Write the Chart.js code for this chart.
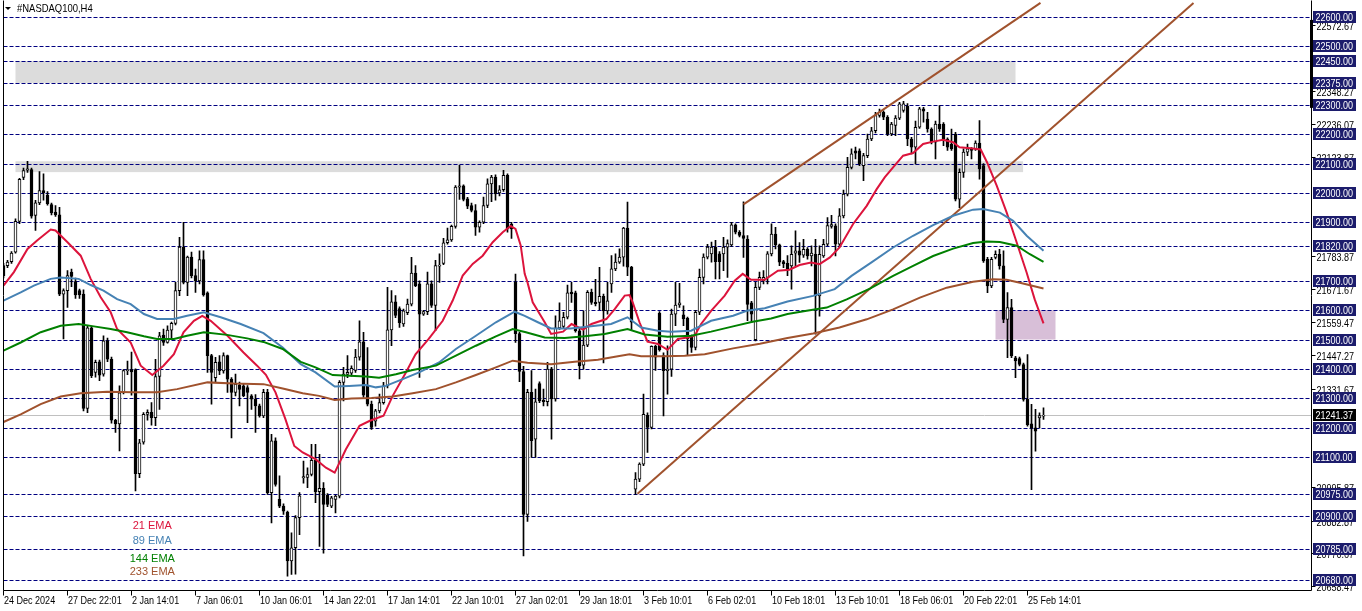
<!DOCTYPE html>
<html>
<head>
<meta charset="utf-8">
<title>#NASDAQ100,H4</title>
<script src="https://cdn.jsdelivr.net/npm/chart.js@4.4.1/dist/chart.umd.min.js"></script>
<style>
  html, body { margin: 0; padding: 0; background: #fff; }
  #wrap { width: 1362px; height: 611px; position: relative; }
</style>
</head>
<body>
<div id="wrap"><canvas id="chart"></canvas></div>
<script>
// ===== Data =====

// time labels, one every 16 H4 bars starting at bar 0
const timeLabels = ["24 Dec 2024", "27 Dec 22:01", "2 Jan 14:01", "7 Jan 06:01", "10 Jan 06:01",
  "14 Jan 22:01", "17 Jan 14:01", "22 Jan 10:01", "27 Jan 02:01", "29 Jan 18:01", "3 Feb 10:01",
  "6 Feb 02:01", "10 Feb 18:01", "13 Feb 10:01", "18 Feb 06:01", "20 Feb 22:01", "25 Feb 14:01"];
const barsPerLabel = 16;

// candles, bar 0 .. 260
const opens = [
  21752,21752,21766,21798,21903,22053,22078,22080,21923,21966, 22008,21993,21960,21935,21925,21655,21667,21730,21698,21667,
  21655,21265,21540,21388,21424,21382,21496,21433,21225,21212, 21320,21394,21398,21398,21043,21150,21245,21252,21234,21374,
  21515,21490,21532,21555,21667,21815,21695,21781,21718,21700, 21773,21659,21445,21370,21424,21393,21445,21365,21320,21345,
  21342,21336,21308,21297,21274,21240,21320,20978,21155,20955, 20932,20912,20745,20790,20893,21028,21030,21040,21088,20981,
  20993,20969,20932,20955,20966,21354,21381,21385,21395,21440, 21492,21342,21280,21222,21257,21285,21342,21533,21629,21606,
  21553,21592,21621,21727,21690,21587,21595,21690,21616,21750, 21760,21830,21840,21886,22020,22024,21980,21957,21940,21883,
  21900,21957,22031,22054,22000,22011,22060,21894,21695,21520, 21391,20904,21320,21160,21350,21293,21288,21400,21298,21540,
  21545,21576,21662,21659,21530,21413,21481,21661,21627,21627, 21647,21598,21690,21741,21764,21781,21880,21747,20990,21024,
  21075,21242,21200,21477,21590,21445,21394,21399,21587,21618, 21584,21572,21508,21473,21593,21712,21781,21792,21815,21792,
  21792,21815,21823,21891,21866,21855,21843,21625,21500,21678, 21700,21712,21792,21860,21823,21766,21760,21751,21795,21803,
  21788,21808,21785,21791,21649,21785,21825,21886,21888,21825, 21922,21996,22087,22144,22144,22093,22127,22184,22212,22264,
  22275,22258,22201,22230,22255,22281,22295,22184,22156,22224, 22287,22252,22218,22173,22235,22235,22184,22167,22201,21979,
  22070,22139,22150,22150,22170,22093,21774,21683,21780,21791, 21751,21569,21609,21438,21435,21415,21296,21213,21199,21233,
  21239
];
const highs = [
  21760,21770,21800,21912,22050,22085,22108,22085,21975,22073, 22065,22005,21965,21957,21951,21673,21735,21740,21710,21672,
  21670,21545,21545,21430,21430,21513,21505,21440,21228,21342, 21398,21427,21457,21400,21160,21251,21260,21285,21433,21525,
  21536,21547,21560,21695,21849,21900,21785,21798,21740,21803, 21803,21663,21450,21439,21445,21455,21447,21370,21382,21355,
  21348,21343,21312,21312,21280,21330,21330,21177,21165,21035, 20940,20915,20841,20900,20978,21086,21063,21143,21143,21109,
  21012,20975,20965,20970,21360,21405,21445,21410,21467,21564, 21525,21473,21290,21262,21314,21354,21678,21667,21650,21612,
  21604,21638,21780,21752,21700,21600,21730,21700,21770,21792, 21845,21880,21890,22025,22094,22028,21985,21965,21960,21905,
  21986,22048,22060,22062,22025,22077,22065,21900,21723,21525, 21409,21330,21394,21331,21356,21331,21422,21405,21581,21625,
  21593,21686,21695,21665,21535,21598,21667,21672,21705,21746, 21655,21695,21786,21792,21809,21883,21969,21750,21046,21080,
  21314,21250,21479,21480,21595,21455,21479,21604,21695,21692, 21615,21577,21515,21600,21740,21792,21825,21832,21838,21800,
  21849,21840,21900,21895,21872,21970,21855,21630,21695,21730, 21735,21800,21895,21883,21826,21770,21786,21820,21871,21831,
  21842,21814,21820,21842,21820,21842,21916,21924,21895,21947, 22010,22121,22150,22156,22150,22135,22201,22224,22275,22286,
  22280,22264,22241,22264,22309,22312,22305,22190,22245,22292, 22292,22275,22222,22245,22298,22240,22188,22218,22207,22082,
  22150,22167,22155,22178,22247,22100,21780,21780,21803,21808, 21803,21660,21637,21443,21440,21420,21449,21279,21262,21250,
  21267
];
const lows = [
  21710,21745,21760,21795,21895,22045,22070,21914,21872,21960, 21975,21958,21925,21920,21650,21502,21610,21680,21640,21640,
  21257,21251,21370,21372,21360,21375,21425,21215,21183,21120, 21315,21380,21310,20984,21029,21143,21225,21208,21206,21262,
  21480,21488,21505,21550,21650,21690,21650,21710,21661,21690, 21648,21388,21280,21355,21380,21385,21320,21165,21308,21274,
  21305,21217,21262,21183,21235,21234,20972,20875,21000,20927, 20904,20693,20699,20700,20835,21010,20995,21035,20944,20795,
  20772,20930,20927,20909,20960,21291,21370,21375,21388,21430, 21303,21274,21194,21205,21250,21280,21335,21479,21575,21541,
  21545,21585,21615,21680,21371,21582,21585,21610,21530,21695, 21755,21825,21835,21880,21978,21973,21946,21935,21855,21866,
  21895,21950,21970,21975,21990,22005,21866,21845,21490,21356, 20762,20880,21098,21098,21285,21274,21274,21160,21290,21535,
  21540,21570,21627,21525,21366,21399,21476,21620,21615,21602, 21420,21587,21661,21735,21760,21750,21718,21530,20972,21015,
  21070,21115,21195,21395,21460,21240,21314,21374,21547,21610, 21547,21445,21456,21465,21585,21690,21775,21764,21707,21707,
  21735,21712,21818,21860,21850,21780,21564,21558,21495,21670, 21690,21690,21785,21809,21752,21745,21718,21672,21751,21763,
  21780,21774,21751,21518,21580,21780,21820,21880,21785,21815, 21915,21990,22082,22116,22093,22042,22120,22178,22205,22258,
  22250,22195,22195,22195,22250,22275,22161,22133,22099,22220, 22241,22207,22167,22116,22210,22161,22145,22145,21973,21950,
  22053,22127,22116,22145,22047,21763,21660,21677,21775,21740, 21558,21438,21438,21370,21410,21290,21205,20988,21119,21199,
  21228
];
const closes = [
  21718,21764,21795,21903,22046,22076,22082,21921,21966,22008, 22000,21963,21932,21925,21655,21667,21718,21715,21652,21652,
  21265,21540,21377,21422,21379,21496,21433,21225,21212,21318, 21394,21398,21390,21043,21148,21245,21252,21234,21374,21513,
  21490,21532,21555,21667,21815,21695,21781,21718,21700,21773, 21652,21445,21388,21422,21393,21445,21365,21320,21348,21330,
  21308,21320,21297,21274,21240,21320,20978,21155,21006,20932, 20915,20745,20790,20893,20967,21033,21040,21088,20981,20993,
  20938,20938,20960,20966,21354,21382,21388,21402,21440,21492, 21310,21280,21200,21257,21285,21342,21533,21629,21582,21558,
  21598,21621,21727,21684,21587,21595,21690,21616,21752,21754, 21830,21840,21886,22020,22024,21978,21955,21940,21883,21900,
  21957,22031,22054,21997,22011,22060,21877,21877,21520,21391, 20904,21320,21155,21288,21291,21288,21399,21298,21540,21564,
  21576,21659,21656,21530,21410,21481,21661,21627,21622,21647, 21598,21632,21741,21764,21781,21880,21747,21559,21024,21075,
  21245,21200,21477,21440,21465,21394,21399,21587,21618,21625, 21570,21502,21473,21593,21712,21781,21815,21815,21766,21766,
  21815,21827,21891,21866,21855,21845,21620,21587,21678,21712, 21712,21792,21860,21823,21764,21758,21738,21791,21803,21788,
  21808,21785,21795,21649,21791,21825,21889,21892,21825,21922, 21996,22087,22133,22136,22099,22127,22184,22212,22264,22275,
  22258,22201,22235,22255,22304,22304,22184,22156,22224,22287, 22279,22218,22173,22235,22218,22184,22156,22150,21979,22070,
  22139,22150,22145,22170,22082,21768,21683,21774,21791,21751, 21569,21609,21444,21427,21415,21296,21210,21199,21188,21241,
  21241.37
];

// moving averages, sampled as [bar, value]
const ema21 = [[0,21684],[2.6,21730],[6,21809],[8.4,21838],[11.8,21875],[13,21872],[16,21832],[19.3,21786],[21.8,21707],
  [24.3,21644],[26.8,21593],[28.4,21536],[31.8,21490],[34.3,21411],[37.2,21379],[40,21411],[42.6,21450],[45,21525],
  [47.6,21564],[49.7,21581],[51.8,21564],[56,21513],[60,21456],[63.4,21411],[65.6,21380],[68,21320],[70.5,21228],
  [72.7,21137],[74.8,21115],[78,21092],[80.6,21063],[82.8,21046],[85.6,21126],[89,21206],[91.6,21223],[95,21240],
  [97.3,21308],[100.6,21388],[103,21450],[106.3,21502],[109.8,21564],[112.3,21633],[114.8,21718],[117.3,21758],
  [119.8,21786],[122.3,21832],[124.8,21866],[126.8,21887],[128,21877],[129.3,21821],[130.3,21724],[131,21695],
  [132.3,21627],[135.3,21559],[136.9,21519],[139.9,21527],[142,21553],[144.9,21534],[147,21553],[150.7,21570],
  [152.8,21604],[155.3,21650],[156.5,21652],[157.3,21627],[159,21559],[161,21493],[163.6,21485],[166,21465],
  [168.6,21502],[171,21507],[172.8,21513],[174.4,21553],[176.9,21598],[180.3,21650],[182.8,21701],[184.8,21724],
  [186.9,21704],[190.3,21704],[193.6,21735],[196.5,21738],[199,21754],[201.9,21763],[204,21757],[206.6,21780],
  [209,21814],[212.4,21894],[215.8,21956],[218.3,22013],[220.3,22053],[222.4,22087],[224.9,22127],[227.4,22136],
  [229.9,22167],[232.4,22175],[234.9,22181],[237.4,22173],[239,22156],[241.8,22152],[244.3,22148],[245.9,22104],
  [248.3,22025],[250.8,21933],[253.3,21831],[255.8,21728],[257.8,21637],[260,21555]];
const ema89 = [[0,21633],[4.3,21661],[7.6,21684],[11.8,21707],[14.3,21712],[18.8,21707],[21.8,21686],[25,21667],
  [28.4,21638],[31.8,21621],[35.1,21587],[38.4,21570],[42.6,21570],[45.9,21581],[50.1,21593],[54.3,21576],
  [59.3,21553],[65,21522],[69.8,21473],[74.3,21416],[78,21388],[82.8,21340],[86.4,21342],[90.6,21345],[93.1,21337],
  [95.6,21342],[99.8,21365],[103.9,21388],[108.9,21422],[113.1,21468],[118.1,21513],[123.1,21559],[127.8,21595],
  [130.3,21581],[133.6,21559],[136.9,21538],[141.8,21538],[146.9,21545],[151.9,21553],[156,21576],[159.4,21541],
  [163.6,21530],[166.9,21527],[171.9,21530],[176.9,21564],[182.4,21581],[185.8,21598],[190.3,21607],[196,21630],
  [202.4,21649],[207.8,21672],[212,21717],[217,21763],[222.4,21814],[227.4,21854],[232.4,21890],[237.4,21922],
  [242.4,21943],[244.9,21945],[249.1,21933],[252.4,21905],[255.8,21854],[260,21803]];
const ema144 = [[0,21462],[4.3,21490],[9.3,21525],[14.3,21547],[18.8,21553],[22.6,21545],[26.8,21536],[30.9,21525],
  [35.1,21511],[38.4,21502],[42.6,21502],[45.9,21513],[50.1,21525],[55.9,21516],[60.9,21504],[65,21492],[69.8,21468],
  [74.3,21424],[78,21405],[82.3,21379],[86.4,21377],[90.6,21374],[93.9,21370],[98.1,21382],[102.3,21396],[108.1,21411],
  [113.1,21445],[118.1,21479],[123.1,21511],[127.3,21536],[130.6,21525],[135.3,21507],[140.3,21505],[145.3,21511],
  [150.3,21519],[156,21536],[160.3,21517],[166,21510],[171.9,21513],[176.9,21527],[182.4,21545],[187.3,21561],
  [191.9,21572],[196,21587],[200.8,21598],[205.8,21609],[210.8,21637],[216.6,21674],[222.4,21717],[227.4,21751],
  [232.4,21785],[237.4,21810],[242.4,21829],[245.8,21834],[249.1,21833],[253.3,21820],[256.6,21791],[260,21765]];
const ema233 = [[0,21219],[4.3,21245],[9.3,21280],[14.3,21306],[19.3,21317],[25.9,21322],[32.6,21320],[38.4,21320],
  [43.4,21331],[51,21354],[57.6,21350],[65,21348],[69.8,21333],[74.8,21317],[78.9,21308],[82.8,21294],[87,21299],
  [92,21301],[97.3,21306],[102.3,21317],[108.1,21331],[113.1,21354],[118.1,21379],[123.1,21405],[127.3,21428],
  [131,21421],[136.9,21416],[142.8,21424],[148.6,21431],[153.6,21443],[156.5,21450],[159.4,21443],[165.3,21443],
  [170.3,21445],[175.3,21450],[182.4,21470],[189.1,21486],[196,21505],[202.4,21521],[209,21541],[215.8,21569],
  [222.4,21603],[229.1,21643],[235.8,21677],[242.4,21697],[247.4,21706],[250.8,21704],[254.1,21694],[260,21674]];
const emaNames = ["21 EMA", "89 EMA", "144 EMA", "233 EMA"];

// drawn objects
const levelLines = [22600, 22500, 22450, 22375, 22300, 22200, 22100, 22000, 21900, 21820, 21700,
  21600, 21500, 21400, 21300, 21200, 21100, 20975, 20900, 20785, 20680];
const scaleTicks = [22572.67, 22348.27, 22236.07, 22123.87, 21783.87, 21671.67, 21559.47,
  21447.27, 21331.67, 20995.87, 20882.87, 20770.67, 20658.47];
const lastPrice = 21241.37;
const channelLow = [[158.5, 20974], [297.5, 22648]];
const channelHigh = [[185, 21961], [259.25, 22648]];
const zoneBars = [[3, 253], [3, 254.9], [248, 263]];
const zonePrices = [[22450, 22375], [22108, 22071], [21600, 21500]];
const scaleMarker = [22590, 22290];

// ===== Look =====
const FONT = '"Liberation Sans", Arial, sans-serif';
const NARROW = 0.82; // squeeze to imitate Tahoma
const emaColors = ["#dc143c", "#4682b4", "#008000", "#a0522d"];
const zoneColors = ["#dcdcdc", "#dcdcdc", "#d8bfd8"];
const legendSpot = { bar: 37.2, prices: [20865, 20813, 20752, 20707] };

const toXY = pts => pts.map(p => ({ x: p[0], y: p[1] }));

const wickData = highs.map((h, i) => ({ x: i, y: [lows[i], h] }));
const bodyData = opens.map((o, i) => {
  const lo = Math.min(o, closes[i]);
  const hi = Math.max(o, closes[i]);
  return { x: i, y: [lo, Math.max(hi, lo + 3)] };
});

function emaSet(points, idx) {
  return {
    type: "line",
    data: toXY(points),
    borderColor: emaColors[idx],
    borderWidth: 2,
    pointRadius: 0,
    tension: 0,
    order: 0
  };
}

function trendSet(points) {
  return {
    type: "line",
    data: toXY(points),
    borderColor: "#a0522d",
    borderWidth: 2,
    pointRadius: 0,
    order: 0
  };
}

// narrow text helper (left aligned)
function narrowText(ctx, text, x, y, size, squeeze) {
  ctx.save();
  ctx.font = size + "px " + FONT;
  ctx.translate(x, y);
  ctx.scale(squeeze, 1);
  ctx.textAlign = "left";
  ctx.textBaseline = "middle";
  ctx.fillText(text, 0, 0);
  ctx.restore();
}

// ===== MT4 style decorations =====
const mt4Decor = {
  id: "mt4Decor",
  beforeDatasetsDraw(chart) {
    const { ctx, chartArea: a, scales: { x, y } } = chart;
    ctx.save();
    ctx.beginPath();
    ctx.rect(a.left, a.top, a.right - a.left, a.bottom - a.top);
    ctx.clip();

    zoneBars.forEach((b, i) => {
      const x0 = x.getPixelForValue(b[0]);
      const x1 = x.getPixelForValue(b[1]);
      const y0 = y.getPixelForValue(zonePrices[i][0]);
      const y1 = y.getPixelForValue(zonePrices[i][1]);
      ctx.fillStyle = zoneColors[i];
      ctx.fillRect(x0, y0, x1 - x0, y1 - y0);
    });

    ctx.lineWidth = 1;
    const yl = Math.round(y.getPixelForValue(lastPrice)) + 0.5;
    ctx.strokeStyle = "#c0c0c0";
    ctx.beginPath();
    ctx.moveTo(a.left, yl);
    ctx.lineTo(a.right, yl);
    ctx.stroke();

    ctx.strokeStyle = "#000080";
    ctx.setLineDash([4, 2]);
    levelLines.forEach(v => {
      const yy = Math.round(y.getPixelForValue(v)) + 0.5;
      ctx.beginPath();
      ctx.moveTo(a.left, yy);
      ctx.lineTo(a.right, yy);
      ctx.stroke();
    });
    ctx.restore();
  },
  afterDraw(chart) {
    const { ctx, chartArea: a, scales: { x, y } } = chart;
    const L = Math.floor(a.left) + 0.5;
    const R = Math.floor(a.right) + 0.5;
    const B = Math.floor(a.bottom) + 0.5;
    ctx.save();

    // frame
    ctx.strokeStyle = "#000";
    ctx.lineWidth = 1;
    ctx.beginPath();
    ctx.moveTo(L, 0.5);
    ctx.lineTo(L, B);
    ctx.lineTo(R, B);
    ctx.lineTo(R, 0.5);
    ctx.stroke();

    // marker on the price scale
    const m0 = y.getPixelForValue(scaleMarker[0]);
    const m1 = y.getPixelForValue(scaleMarker[1]);
    ctx.fillStyle = "#000";
    ctx.fillRect(R - 1.5, m0, 3, m1 - m0);

    // plain price ticks
    scaleTicks.forEach(v => {
      const yy = Math.round(y.getPixelForValue(v));
      ctx.fillStyle = "#000";
      ctx.fillRect(R, yy, 4, 1);
      narrowText(ctx, v.toFixed(2), R + 5, yy + 2, 11, NARROW);
    });

    // level labels in navy boxes
    levelLines.forEach(v => {
      const yy = Math.round(y.getPixelForValue(v));
      ctx.fillStyle = "#1c1c6c";
      ctx.fillRect(R + 1.5, yy - 6, 43, 12);
      ctx.fillStyle = "#fff";
      narrowText(ctx, v.toFixed(2), R + 4, yy + 0.5, 11, NARROW);
    });

    // last price label
    const yp = Math.round(y.getPixelForValue(lastPrice));
    ctx.fillStyle = "#000";
    ctx.fillRect(R + 1.5, yp - 6, 43, 12);
    ctx.fillStyle = "#fff";
    narrowText(ctx, lastPrice.toFixed(2), R + 4, yp + 0.5, 11, NARROW);

    // time axis
    ctx.fillStyle = "#000";
    timeLabels.forEach((t, k) => {
      const xx = Math.floor(x.getPixelForValue(k * barsPerLabel));
      ctx.fillRect(xx, B, 1, 5);
      narrowText(ctx, t, xx + 1, B + 10, 11, NARROW);
    });

    // symbol title
    ctx.beginPath();
    ctx.moveTo(5, 7);
    ctx.lineTo(11, 7);
    ctx.lineTo(8, 10);
    ctx.closePath();
    ctx.fill();
    narrowText(ctx, "#NASDAQ100,H4", 17, 9, 11, 0.86);

    // indicator legend
    ctx.font = "11px " + FONT;
    ctx.textAlign = "center";
    ctx.textBaseline = "middle";
    emaNames.forEach((n, i) => {
      ctx.fillStyle = emaColors[i];
      ctx.fillText(n, x.getPixelForValue(legendSpot.bar), y.getPixelForValue(legendSpot.prices[i]));
    });
    ctx.restore();
  }
};

new Chart(document.getElementById("chart"), {
  data: {
    datasets: [
      emaSet(ema233, 3),
      emaSet(ema144, 2),
      emaSet(ema89, 1),
      emaSet(ema21, 0),
      trendSet(channelLow),
      trendSet(channelHigh),
      {
        type: "bar",
        data: bodyData,
        barThickness: 3,
        grouped: false,
        borderWidth: 1,
        borderSkipped: false,
        borderColor: "#000",
        backgroundColor: ctx => closes[ctx.dataIndex] >= opens[ctx.dataIndex] ? "#fff" : "#000",
        order: 1
      },
      {
        type: "bar",
        data: wickData,
        barThickness: 1,
        grouped: false,
        backgroundColor: "#000",
        order: 2
      }
    ]
  },
  options: {
    responsive: true,
    maintainAspectRatio: false,
    animation: false,
    events: [],
    layout: { padding: { left: 3.5, right: 50.5, top: 1, bottom: 21 } },
    plugins: { legend: { display: false }, tooltip: { enabled: false } },
    scales: {
      x: { type: "linear", min: 0, max: 327, offset: false, display: false },
      y: { type: "linear", min: 20646, max: 22654.5, display: false }
    }
  },
  plugins: [mt4Decor]
});
</script>
</body>
</html>
